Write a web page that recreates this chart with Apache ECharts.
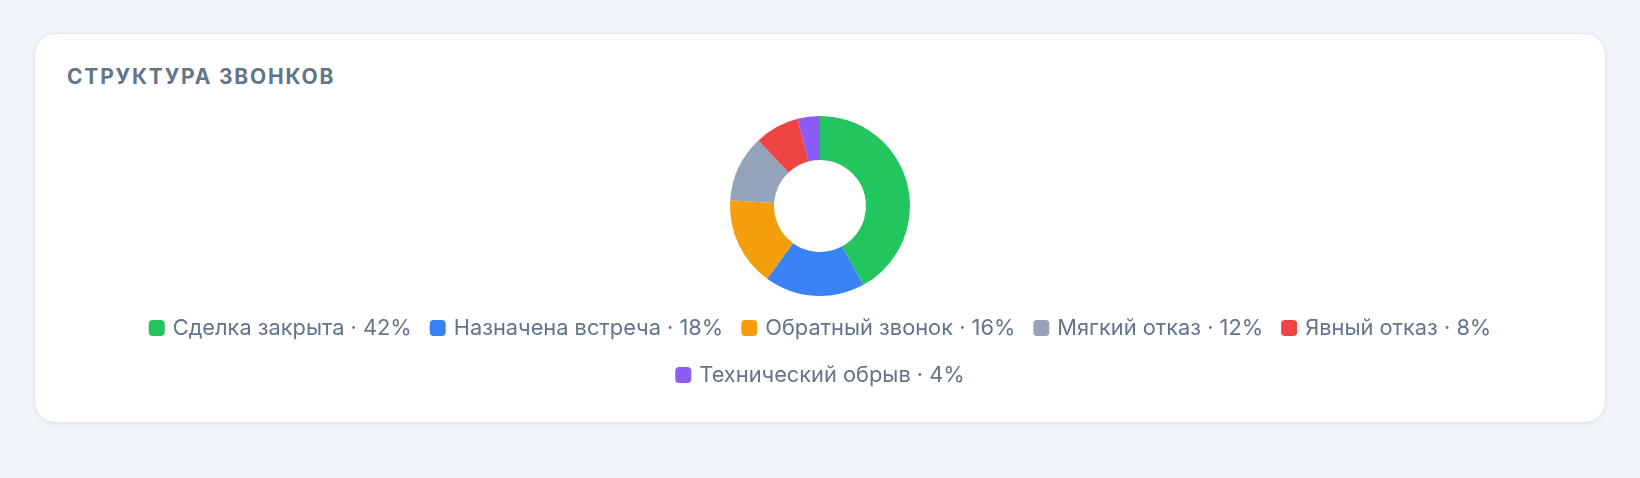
<!DOCTYPE html>
<html>
<head>
<meta charset="utf-8">
<script src="https://cdn.jsdelivr.net/npm/echarts@6/dist/echarts.min.js"></script>
<style>
    html, body {
        margin: 0;
        padding: 0;
        width: 1640px;
        height: 478px;
        background: #f1f5f9;
        font-family: Inter, "Noto Sans", sans-serif;
        overflow: hidden;
    }
    .card {
        position: absolute;
        left: 34px;
        top: 33px;
        width: 1570px;
        height: 388px;
        background: #ffffff;
        border: 1px solid #e2e8f0;
        border-radius: 22px;
        box-shadow: 0 2px 6px rgba(15, 23, 42, 0.06);
    }
    .card h3 {
        position: absolute;
        left: 32px;
        top: 31px;
        margin: 0;
        font-size: 21px;
        line-height: 24px;
        font-weight: 700;
        letter-spacing: 1.8px;
        color: #64748b;
    }
    #zvonki_pie {
        position: absolute;
        left: 32px;
        top: 0;
        width: 1506px;
        height: 388px;
    }
</style>
</head>
<body>
<div class="card">
    <h3>СТРУКТУРА ЗВОНКОВ</h3>
    <div id="zvonki_pie"></div>
</div>
<script>
    // данные структуры звонков
    var categories = ['Сделка закрыта', 'Назначена встреча', 'Обратный звонок', 'Мягкий отказ', 'Явный отказ', 'Технический обрыв'];
    var shares = [42, 18, 16, 12, 8, 4];
    var colorList = ['#22c55e', '#3b82f6', '#f59e0b', '#94a3b8', '#ef4444', '#8b5cf6'];

    var pieData = [];
    for (var i = 0; i < categories.length; i++) {
        pieData.push({name: categories[i], value: shares[i]});
    }

    // легенда в две строки, каждая по центру
    function makeLegend(names, top) {
        return {
            data: names,
            left: 'center',
            top: top,
            padding: 0,
            itemGap: 18,
            itemWidth: 16,
            itemHeight: 16,
            icon: 'roundRect',
            formatter: function (name) {
                var idx = categories.indexOf(name);
                return name + ' · ' + shares[idx] + '%';
            },
            textStyle: {
                fontFamily: 'Inter',
                fontSize: 21.8,
                color: '#64748b',
                lineHeight: 30,
                padding: [0, 0, 0, 3]
            }
        };
    }

    var myChart = echarts.init(document.getElementById('zvonki_pie'));
    var option = {
        animation: false,
        color: colorList,
        legend: [
            makeLegend(categories.slice(0, 5), 279),
            makeLegend(categories.slice(5), 326)
        ],
        series: [
            {
                name: 'Структура звонков',
                type: 'pie',
                radius: [46, 90],
                center: ['50%', 172],
                startAngle: 90,
                label: {show: false},
                labelLine: {show: false},
                emphasis: {scale: false},
                data: pieData
            }
        ]
    };
    myChart.setOption(option);
</script>
</body>
</html>
